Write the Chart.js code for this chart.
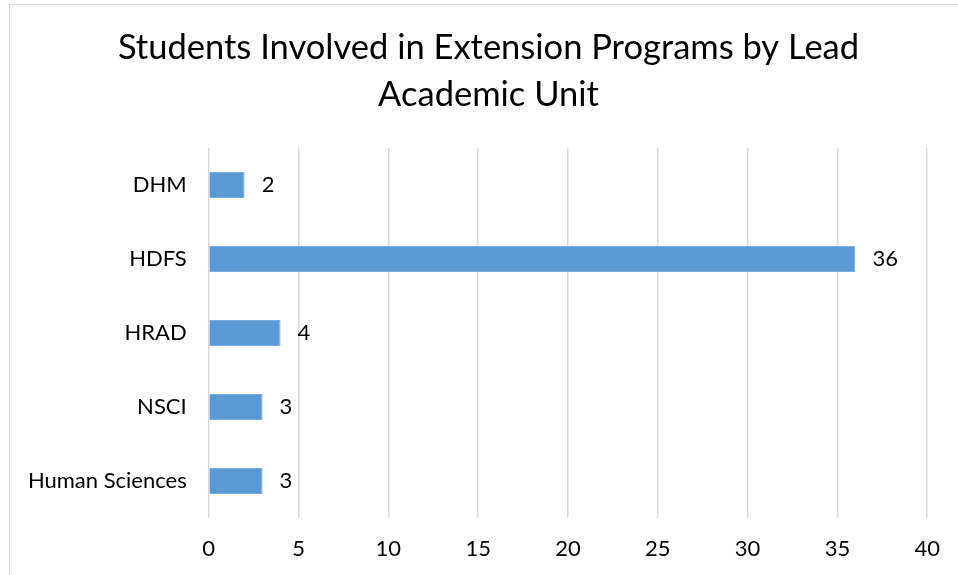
<!DOCTYPE html>
<html>
<head>
<meta charset="utf-8">
<script src="https://cdn.jsdelivr.net/npm/chart.js@4/dist/chart.umd.min.js"></script>
<style>
  html, body { margin: 0; padding: 0; background: #fff; }
  #wrap { position: relative; width: 958px; height: 575px; overflow: hidden; }
  #frame { position: absolute; left: 9px; top: 4px; width: 1000px; height: 700px;
           border: 1px solid #d9d9d9; box-sizing: border-box; }
  canvas { position: absolute; left: 0; top: 0; }
</style>
</head>
<body>
<div id="wrap">
  <div id="frame"></div>
  <canvas id="c" width="958" height="575"></canvas>
</div>
<script>
// Lead academic units and number of students involved
const units = ['DHM', 'HDFS', 'HRAD', 'NSCI', 'Human Sciences'];
const students = [2, 36, 4, 3, 3];
const axisMin = 0;
const axisMax = 40;
const axisStep = 5;

const FONT = 'Lato, "Open Sans", sans-serif';

// Value labels to the right of each bar
const valueLabels = {
  id: 'valueLabels',
  afterDatasetsDraw(chart) {
    const ctx = chart.ctx;
    const meta = chart.getDatasetMeta(0);
    const values = chart.data.datasets[0].data;
    ctx.save();
    ctx.font = '22px ' + FONT;
    ctx.fillStyle = '#000';
    ctx.textAlign = 'left';
    ctx.textBaseline = 'middle';
    meta.data.forEach((bar, i) => {
      ctx.fillText(String(values[i]), bar.x + 17, bar.y);
    });
    ctx.restore();
  }
};

// Centre the title over the whole frame rather than only left of the right margin
const titleOffset = {
  id: 'titleOffset',
  afterLayout(chart) {
    if (chart.titleBlock) chart.titleBlock.left = 48;
  }
};

new Chart(document.getElementById('c'), {
  type: 'bar',
  data: {
    labels: units,
    datasets: [{
      data: students,
      backgroundColor: '#5b9bd5',
      borderColor: '#79afe0',
      borderWidth: 1,
      barPercentage: 0.35,
      categoryPercentage: 1
    }]
  },
  options: {
    indexAxis: 'y',
    responsive: false,
    animation: false,
    layout: { padding: { top: 0, right: 29, bottom: 0, left: 0 } },
    plugins: {
      legend: { display: false },
      tooltip: { enabled: false },
      title: {
        display: true,
        text: ['Students Involved in Extension Programs by Lead', 'Academic Unit'],
        color: '#000',
        font: { family: FONT, size: 34.5, weight: 'normal', lineHeight: 1.354 },
        padding: { top: 25, bottom: 29.6 }
      }
    },
    scales: {
      x: {
        min: axisMin,
        max: axisMax,
        ticks: { stepSize: axisStep, color: '#000', padding: 18,
                 font: { family: FONT, size: 22 } },
        grid: { color: '#d9d9d9', lineWidth: 1.5, drawTicks: false },
        border: { display: false },
        afterFit(scale) { scale.height = 57; }
      },
      y: {
        ticks: { color: '#000', padding: 22, font: { family: FONT, size: 22 } },
        grid: { display: false, drawTicks: false },
        border: { display: false },
        afterFit(scale) { scale.width = 208.7; }
      }
    }
  },
  plugins: [valueLabels, titleOffset]
});
</script>
</body>
</html>
